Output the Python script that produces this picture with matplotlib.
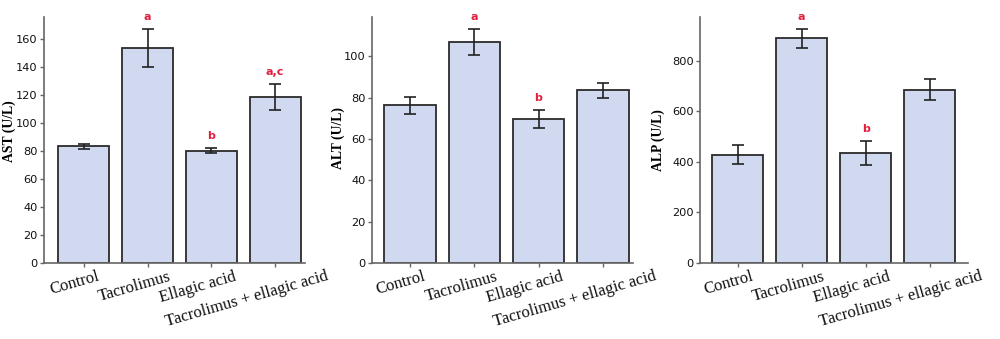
import matplotlib
matplotlib.use("Agg")
import matplotlib.pyplot as plt
from matplotlib.transforms import ScaledTranslation

groups = ["Control", "Tacrolimus", "Ellagic acid", "Tacrolimus + ellagic acid"]

ast_mean = [83.5, 154, 80.2, 119]
ast_err = [2.0, 13.5, 1.8, 9.2]
ast_marks = ["", "a", "b", "a,c"]

alt_mean = [76.2, 106.8, 69.6, 83.5]
alt_err = [4.1, 6.2, 4.4, 3.8]
alt_marks = ["", "a", "b", ""]

alp_mean = [428, 888, 436, 685]
alp_err = [37, 38, 47, 42]
alp_marks = ["", "a", "b", ""]

panels = [
    ("AST (U/L)", ast_mean, ast_err, ast_marks, 176, range(0, 161, 20)),
    ("ALT (U/L)", alt_mean, alt_err, alt_marks, 119, range(0, 101, 20)),
    ("ALP (U/L)", alp_mean, alp_err, alp_marks, 973, range(0, 801, 200)),
]

# axes boxes in figure fractions (left, bottom, width, height)
boxes = [
    (0.044, 0.224, 0.261, 0.726),
    (0.372, 0.224, 0.261, 0.726),
    (0.700, 0.224, 0.268, 0.726),
]
xlims = [(-0.625, 3.47), (-0.59, 3.47), (-0.59, 3.6)]
label_xy = [(-0.133, 0.535), (-0.128, 0.51), (-0.157, 0.50)]

bar_color = "#d1d9f0"
edge = "#2b2b2b"
spine = "#666666"
red = "#e0203c"

fig = plt.figure(figsize=(10, 3.39), dpi=100)
axes = []
for (label, mean, err, marks, ytop, ticks), box, xl, lxy in zip(panels, boxes, xlims, label_xy):
    ax = fig.add_axes(box)
    x = range(len(groups))
    ax.bar(x, mean, width=0.8, color=bar_color, edgecolor=edge, linewidth=1.3, zorder=2)
    ax.errorbar(x, mean, yerr=err, fmt="none", ecolor="#222222", elinewidth=1.2,
                capsize=4, capthick=1.2, zorder=3)
    for i, m in enumerate(marks):
        if m:
            ax.annotate(m, (i, mean[i] + err[i]), xytext=(0, 5), textcoords="offset points",
                        ha="center", va="bottom", color=red, fontsize=8,
                        fontweight="bold", family="DejaVu Sans")
    ax.set_xlim(*xl)
    ax.set_ylim(0, ytop)
    ax.set_yticks(list(ticks))
    ax.set_xticks(list(x))
    ax.set_xticklabels(groups, rotation=16, ha="center", va="top",
                       family="Liberation Serif", fontsize=12)
    for t in ax.get_yticklabels():
        t.set_family("DejaVu Sans")
        t.set_fontsize(8.2)
    ax.set_ylabel(label, family="Liberation Serif", fontweight="bold", fontsize=9.8)
    ax.yaxis.set_label_coords(*lxy)
    ax.yaxis.label.set_va("center")
    for s in ["top", "right"]:
        ax.spines[s].set_visible(False)
    for s in ["left", "bottom"]:
        ax.spines[s].set_color(spine)
        ax.spines[s].set_linewidth(1.2)
    ax.tick_params(axis="both", colors=spine, length=3, width=1, labelcolor="#111111", pad=1.5)
    ax.tick_params(axis="x", pad=1)
    axes.append(ax)

# shift rotated labels left, proportional to their length
fig.canvas.draw()
for ax in axes:
    for t in ax.get_xticklabels():
        w = t.get_window_extent().width
        t.set_transform(t.get_transform() + ScaledTranslation(-0.17 * w / fig.dpi, 0, fig.dpi_scale_trans))

fig.savefig("out.png", dpi=100)
